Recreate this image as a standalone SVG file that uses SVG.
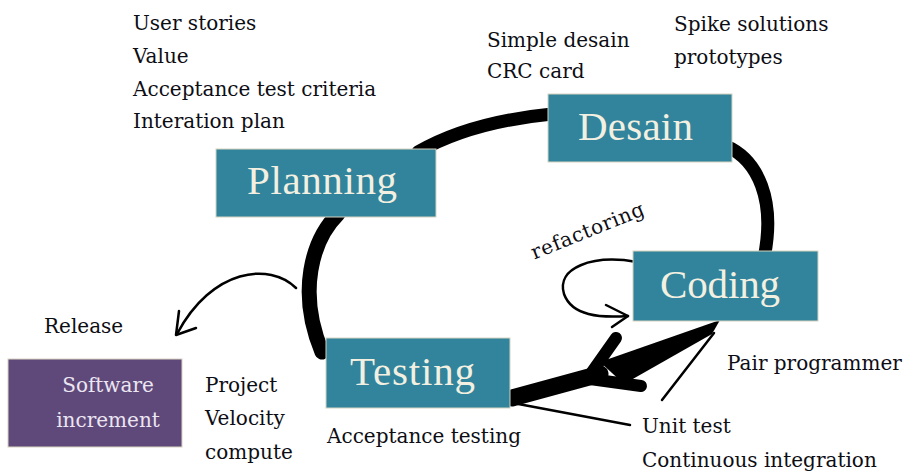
<svg xmlns="http://www.w3.org/2000/svg" width="911" height="474" viewBox="0 0 911 474">
<style>
.box{fill:#31849B;stroke:#d8d4c0;stroke-width:1}
.rel{fill:#5F497A;stroke:#d8d4c0;stroke-width:1}
.big{font-family:"Liberation Serif",serif;font-size:41px;fill:#f3f0e2}
.sm{font-family:"DejaVu Serif",serif;font-size:20px;fill:#0d0d14}
.inc{font-family:"DejaVu Serif",serif;font-size:20px;fill:#ece6f2}
.thick{fill:none;stroke:#000;stroke-linecap:round}
.thin{fill:none;stroke:#000;stroke-width:2.5;stroke-linecap:round;stroke-linejoin:round}
</style>
<rect width="911" height="474" fill="#fff"/>
<g id="connectors">
<path class="thick" d="M418,152 Q470,122 552,114" stroke-width="13"/>
<path class="thick" d="M726,146 C758,160 776,200 764,258" stroke-width="13"/>
<path class="thick" d="M338,214 C312,240 297,292 322,352" stroke-width="15"/>
<path class="thin" d="M296,288 C270,262 212,268 177,334"/>
<path class="thin" d="M179,311 L176,335 L196,328"/>
<path class="thin" d="M637,262 C592,254 556,268 564,294 C572,316 600,318 628,316"/>
<path class="thin" d="M606,305 L628,316 L612,327"/>
<path d="M720,320 L712,334 L624,384 L600,362 Z" fill="#000"/>
<path class="thick" d="M616,338 L592,372" stroke-width="12"/>
<path class="thick" d="M641,386 L590,379" stroke-width="12"/>
<path class="thick" d="M600,374 L512,398" stroke-width="17"/>
<path class="thin" d="M662,400 L714,333"/>
<path class="thin" d="M513,403 L630,425"/>
</g>
<g id="planning">
<rect class="box" x="216" y="149" width="220" height="68"/>
<text class="big" x="247" y="194" textLength="150">Planning</text>
</g>
<g id="desain">
<rect class="box" x="548" y="94" width="184" height="68"/>
<text class="big" x="578" y="140" textLength="115">Desain</text>
</g>
<g id="coding">
<rect class="box" x="633" y="251" width="185" height="70"/>
<text class="big" x="660" y="298" textLength="120">Coding</text>
</g>
<g id="testing">
<rect class="box" x="326" y="338" width="184" height="70"/>
<text class="big" x="350" y="385" textLength="125">Testing</text>
</g>
<g id="software-increment">
<rect class="rel" x="8" y="359" width="174" height="88"/>
<text class="inc" x="108" y="392" text-anchor="middle">Software</text>
<text class="inc" x="108" y="427" text-anchor="middle">increment</text>
</g>
<g id="labels">
<text class="sm" x="590" y="237" transform="rotate(-22 590 237)" text-anchor="middle" textLength="120">refactoring</text>
<text class="sm" x="133" y="30">User stories</text>
<text class="sm" x="133" y="63">Value</text>
<text class="sm" x="133" y="96">Acceptance test criteria</text>
<text class="sm" x="133" y="128">Interation plan</text>
<text class="sm" x="487" y="47">Simple desain</text>
<text class="sm" x="487" y="78">CRC  card</text>
<text class="sm" x="674" y="31">Spike solutions</text>
<text class="sm" x="674" y="64">prototypes</text>
<text class="sm" x="44" y="333">Release</text>
<text class="sm" x="205" y="392">Project</text>
<text class="sm" x="205" y="425">Velocity</text>
<text class="sm" x="205" y="459">compute</text>
<text class="sm" x="327" y="443">Acceptance testing</text>
<text class="sm" x="727" y="370">Pair programmer</text>
<text class="sm" x="642" y="433">Unit test</text>
<text class="sm" x="642" y="467">Continuous integration</text>
</g>
</svg>
